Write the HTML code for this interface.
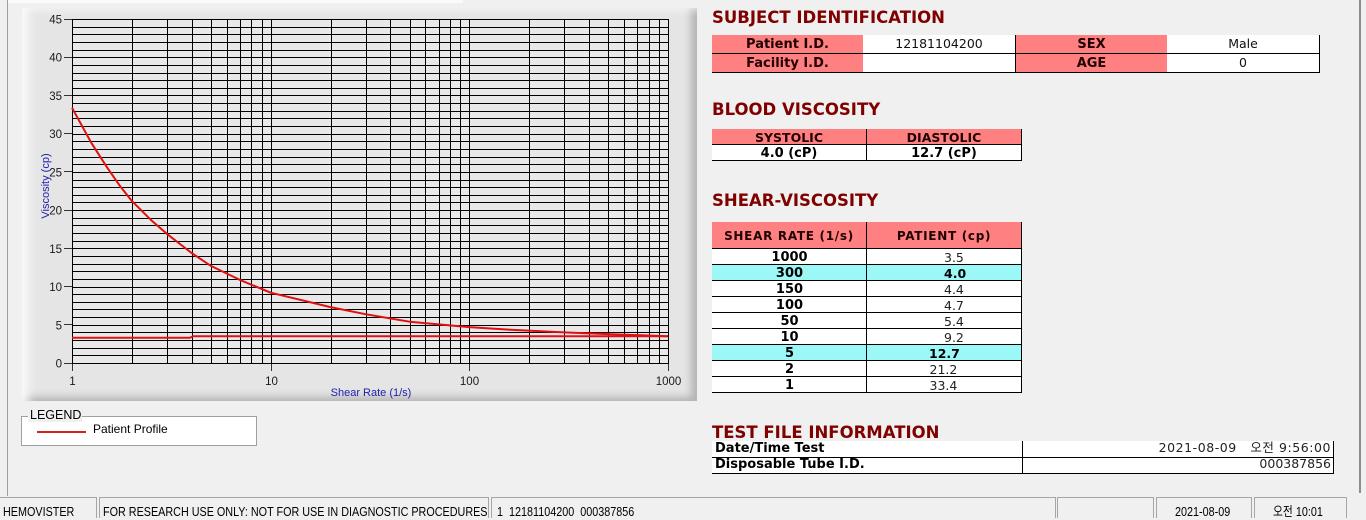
<!DOCTYPE html>
<html><head><meta charset="utf-8">
<style>
html,body{margin:0;padding:0;}
body{width:1366px;height:518px;background:#f0f0f0;position:relative;overflow:hidden;font-family:"Liberation Sans","Noto Sans CJK KR",sans-serif;}
.a{position:absolute;box-sizing:border-box;}
.t{position:absolute;white-space:nowrap;font-family:"DejaVu Sans","Noto Sans CJK KR",sans-serif;line-height:1.164;}
.b{font-weight:bold;}
.h{font-size:16.5px;font-weight:bold;color:#800000;}
.pk{background:#ff8080;}
.wh{background:#fff;}
.cy{background:#9cf7f7;}
.k{background:#000;}
.st{position:absolute;top:497px;height:21px;border-top:1px solid #a6a6a6;border-left:1px solid #a6a6a6;border-right:1px solid #a6a6a6;box-sizing:border-box;}
.sx{position:absolute;top:505px;white-space:nowrap;font-family:"Liberation Sans","Noto Sans CJK KR",sans-serif;font-size:13px;line-height:1.117;color:#000;transform:scaleX(0.83);transform-origin:0 0;}
.c{text-align:center;}
</style></head><body>

<!-- frame lines -->
<div class="a" style="left:8px;top:0;width:455px;height:3px;background:#fafafa"></div>
<div class="a" style="left:7px;top:0;width:1px;height:496px;background:#a0a0a0"></div>
<div class="a" style="left:1359px;top:0;width:2px;height:493px;background:#8c8c8c"></div>

<!-- chart panel -->
<div class="a" style="left:22px;top:8px;width:675px;height:393px;background:#e5e5e5;box-shadow:inset 12px 6px 10px -6px #fbfbfb, inset -9px -7px 8px -3px #b4b4b4;"></div>

<svg class="a" style="left:0;top:0" width="700" height="410" xmlns="http://www.w3.org/2000/svg">
<rect x="72" y="19" width="596" height="344" fill="#e8e8e8"/>
<path shape-rendering="crispEdges" stroke="#000" stroke-width="1" fill="none" d="M72 355.5H668M72 348.5H668M72 340.5H668M72 332.5H668M72 325.5H668M72 317.5H668M72 309.5H668M72 302.5H668M72 294.5H668M72 287.5H668M72 279.5H668M72 271.5H668M72 264.5H668M72 256.5H668M72 248.5H668M72 241.5H668M72 233.5H668M72 225.5H668M72 218.5H668M72 210.5H668M72 202.5H668M72 195.5H668M72 187.5H668M72 180.5H668M72 172.5H668M72 164.5H668M72 157.5H668M72 149.5H668M72 141.5H668M72 134.5H668M72 126.5H668M72 118.5H668M72 111.5H668M72 103.5H668M72 95.5H668M72 88.5H668M72 80.5H668M72 73.5H668M72 65.5H668M72 57.5H668M72 50.5H668M72 42.5H668M72 34.5H668M72 27.5H668
M132.5 19V363M167.5 19V363M192.5 19V363M211.5 19V363M227.5 19V363M240.5 19V363M251.5 19V363M262.5 19V363M271.5 19V363M331.5 19V363M366.5 19V363M390.5 19V363M410.5 19V363M425.5 19V363M439.5 19V363M450.5 19V363M460.5 19V363M469.5 19V363M529.5 19V363M564.5 19V363M589.5 19V363M608.5 19V363M624.5 19V363M637.5 19V363M649.5 19V363M659.5 19V363"/>
<rect x="72.5" y="19.5" width="596" height="344" fill="none" stroke="#000" stroke-width="1" shape-rendering="crispEdges"/>
<!-- ticks -->
<path shape-rendering="crispEdges" stroke="#333" stroke-width="1" d="M64 19.5H72M64 57.5H72M64 95.5H72M64 133.5H72M64 171.5H72M64 210.5H72M64 248.5H72M64 286.5H72M64 324.5H72M64 363.5H72M72.5 364V371M271.5 364V371M469.5 364V371M668.5 364V371"/>
<g font-family="Liberation Sans, sans-serif" font-size="11.5" fill="#1a1a1a" text-anchor="end">
<text x="62" y="23.5">45</text>
<text x="62" y="61.7">40</text>
<text x="62" y="99.9">35</text>
<text x="62" y="138.2">30</text>
<text x="62" y="176.4">25</text>
<text x="62" y="214.6">20</text>
<text x="62" y="252.8">15</text>
<text x="62" y="291.1">10</text>
<text x="62" y="329.3">5</text>
<text x="62" y="367.5">0</text>
</g>
<g font-family="Liberation Sans, sans-serif" font-size="11.5" fill="#1a1a1a" text-anchor="middle">
<text x="72.5" y="385">1</text>
<text x="271.5" y="385">10</text>
<text x="469.5" y="385">100</text>
<text x="668.5" y="385">1000</text>
</g>
<text x="371" y="396" font-family="Liberation Sans, sans-serif" font-size="11" fill="#2020b0" text-anchor="middle">Shear Rate (1/s)</text>
<text transform="translate(49,186) rotate(-90)" font-family="Liberation Sans, sans-serif" font-size="11" fill="#2020b0" text-anchor="middle">Viscosity (cp)</text>
<!-- series -->
<polyline fill="none" stroke="#e01010" stroke-width="2" stroke-linejoin="round" points="72,337.8 190,337.8 193,336.2 668,336.2"/>
<polyline fill="none" stroke="#e01010" stroke-width="2" stroke-linejoin="round" points="72,107.7 91.3,142.8 107,167.3 120.3,186.4 131.8,200.9 151.1,220.1 166.8,233.8 191.6,253 210.9,265.9 239.9,279.9 270.7,292.7 330.5,307.1 365.5,314.2 409.6,321.7 469.3,327.1 504.3,329.4 564.1,332.4 608.2,334.1 668,336.2"/>
</svg>

<!-- legend -->
<div class="a" style="left:21px;top:416px;width:236px;height:30px;background:#fff;border:1px solid #a0a0a0"></div>
<div class="a" style="left:28px;top:408px;width:54px;height:14px;background:#f0f0f0"></div>
<div class="t" style="left:30px;top:409px;font-family:'Liberation Sans',sans-serif;font-size:12.5px;line-height:1.117;">LEGEND</div>
<div class="a" style="left:37px;top:431px;width:49px;height:2px;background:#d42020"></div>
<div class="t" style="left:93px;top:423px;font-family:'Liberation Sans',sans-serif;font-size:12px;line-height:1.117;">Patient Profile</div>

<!-- headings -->
<div class="t h" style="left:712px;top:8px;">SUBJECT IDENTIFICATION</div>
<div class="t h" style="left:712px;top:99.7px;">BLOOD VISCOSITY</div>
<div class="t h" style="left:712px;top:191.4px;">SHEAR-VISCOSITY</div>
<div class="t h" style="left:712px;top:423px;">TEST FILE INFORMATION</div>

<!-- table 1 -->
<div class="a pk" style="left:712px;top:35px;width:151px;height:38px"></div>
<div class="a wh" style="left:863px;top:35px;width:152px;height:38px"></div>
<div class="a pk" style="left:1016px;top:35px;width:151px;height:38px"></div>
<div class="a wh" style="left:1167px;top:35px;width:152px;height:38px"></div>
<div class="a k" style="left:712px;top:53px;width:608px;height:1px"></div>
<div class="a k" style="left:712px;top:72px;width:608px;height:1px"></div>
<div class="a k" style="left:1015px;top:35px;width:1px;height:38px"></div>
<div class="a k" style="left:1319px;top:35px;width:1px;height:38px"></div>
<div class="t b c" style="left:712px;width:151px;top:36.9px;font-size:13px;color:#200000">Patient I.D.</div>
<div class="t b c" style="left:712px;width:151px;top:55.9px;font-size:13px;color:#200000">Facility I.D.</div>
<div class="t c" style="left:863px;width:152px;top:37.4px;font-size:12.5px;color:#111">12181104200</div>
<div class="t b c" style="left:1016px;width:151px;top:36.9px;font-size:13px;color:#200000">SEX</div>
<div class="t b c" style="left:1016px;width:151px;top:55.9px;font-size:13px;color:#200000">AGE</div>
<div class="t c" style="left:1167px;width:152px;top:37.4px;font-size:12.5px;color:#111">Male</div>
<div class="t c" style="left:1167px;width:152px;top:56.4px;font-size:12.5px;color:#111">0</div>

<!-- table 2 -->
<div class="a pk" style="left:712px;top:129px;width:309px;height:15px"></div>
<div class="a k" style="left:712px;top:144px;width:310px;height:1px"></div>
<div class="a wh" style="left:712px;top:145px;width:309px;height:15px"></div>
<div class="a k" style="left:712px;top:160px;width:310px;height:1px"></div>
<div class="a k" style="left:866px;top:129px;width:1px;height:32px"></div>
<div class="a k" style="left:1021px;top:129px;width:1px;height:32px"></div>
<div class="t b c" style="left:712px;width:154px;top:131.4px;font-size:12.5px;color:#200000">SYSTOLIC</div>
<div class="t b c" style="left:867px;width:154px;top:131.4px;font-size:12.5px;color:#200000">DIASTOLIC</div>
<div class="t b c" style="left:712px;width:154px;top:146.4px;font-size:13px;color:#000">4.0 (cP)</div>
<div class="t b c" style="left:867px;width:154px;top:146.4px;font-size:13px;color:#000">12.7 (cP)</div>

<!-- table 3 -->
<div class="a pk" style="left:712px;top:222px;width:309px;height:26px"></div>
<div class="a k" style="left:712px;top:248px;width:310px;height:1px"></div>
<div class="a wh" style="left:712px;top:249px;width:309px;height:144px"></div>
<div class="a cy" style="left:712px;top:265px;width:309px;height:15px"></div>
<div class="a cy" style="left:712px;top:345px;width:309px;height:15px"></div>
<div class="a k" style="left:712px;top:264px;width:310px;height:1px"></div>
<div class="a k" style="left:712px;top:280px;width:310px;height:1px"></div>
<div class="a k" style="left:712px;top:296px;width:310px;height:1px"></div>
<div class="a k" style="left:712px;top:312px;width:310px;height:1px"></div>
<div class="a k" style="left:712px;top:328px;width:310px;height:1px"></div>
<div class="a k" style="left:712px;top:344px;width:310px;height:1px"></div>
<div class="a k" style="left:712px;top:360px;width:310px;height:1px"></div>
<div class="a k" style="left:712px;top:376px;width:310px;height:1px"></div>
<div class="a k" style="left:712px;top:392px;width:310px;height:1px"></div>
<div class="a k" style="left:866px;top:222px;width:1px;height:171px"></div>
<div class="a k" style="left:1021px;top:222px;width:1px;height:171px"></div>
<div class="t b c" style="left:712px;width:154px;top:229.9px;font-size:12px;letter-spacing:0.7px;color:#200000">SHEAR RATE (1/s)</div>
<div class="t b c" style="left:867px;width:154px;top:229.9px;font-size:12px;letter-spacing:0.7px;color:#200000">PATIENT (cp)</div>

<div class="t b c" style="left:712px;width:155px;top:250.2px;font-size:13px">1000</div>
<div class="t b c" style="left:712px;width:155px;top:266.2px;font-size:13px">300</div>
<div class="t b c" style="left:712px;width:155px;top:282.2px;font-size:13px">150</div>
<div class="t b c" style="left:712px;width:155px;top:298.2px;font-size:13px">100</div>
<div class="t b c" style="left:712px;width:155px;top:314.2px;font-size:13px">50</div>
<div class="t b c" style="left:712px;width:155px;top:330.2px;font-size:13px">10</div>
<div class="t b c" style="left:712px;width:155px;top:346.2px;font-size:13px">5</div>
<div class="t b c" style="left:712px;width:155px;top:362.2px;font-size:13px">2</div>
<div class="t b c" style="left:712px;width:155px;top:378.2px;font-size:13px">1</div>

<div class="t" style="left:944px;top:250.7px;font-size:12.5px;color:#222">3.5</div>
<div class="t b" style="left:944px;top:266.7px;font-size:12.5px">4.0</div>
<div class="t" style="left:944px;top:282.7px;font-size:12.5px;color:#222">4.4</div>
<div class="t" style="left:944px;top:298.7px;font-size:12.5px;color:#222">4.7</div>
<div class="t" style="left:944px;top:314.7px;font-size:12.5px;color:#222">5.4</div>
<div class="t" style="left:944px;top:330.7px;font-size:12.5px;color:#222">9.2</div>
<div class="t b" style="left:929px;top:346.7px;font-size:12.5px">12.7</div>
<div class="t" style="left:929.5px;top:362.7px;font-size:12.5px;color:#222">21.2</div>
<div class="t" style="left:929.5px;top:378.7px;font-size:12.5px;color:#222">33.4</div>

<!-- table 4 -->
<div class="a wh" style="left:712px;top:441px;width:622px;height:32px"></div>
<div class="a k" style="left:712px;top:457px;width:622px;height:1px"></div>
<div class="a k" style="left:712px;top:473px;width:622px;height:1px"></div>
<div class="a k" style="left:1022px;top:441px;width:1px;height:32px"></div>
<div class="a k" style="left:1333px;top:441px;width:1px;height:33px"></div>
<div class="t b" style="left:715px;top:440.9px;font-size:13px">Date/Time Test</div>
<div class="t b" style="left:715px;top:456.9px;font-size:13px">Disposable Tube I.D.</div>
<div class="t" style="right:35px;top:441.4px;font-size:12.5px;letter-spacing:0.55px;color:#222">2021-08-09&nbsp;&nbsp;&nbsp;오전 9:56:00</div>
<div class="t" style="right:35px;top:457.4px;font-size:12.5px;color:#222">000387856</div>

<!-- status bar -->
<div class="st" style="left:-1px;width:98px"></div>
<div class="st" style="left:99px;width:390px"></div>
<div class="st" style="left:491px;width:565px"></div>
<div class="st" style="left:1057px;width:97px"></div>
<div class="st" style="left:1156px;width:96px"></div>
<div class="st" style="left:1254px;width:93px"></div>
<div class="sx" style="left:3px">HEMOVISTER</div>
<div class="sx" style="left:103px">FOR RESEARCH USE ONLY: NOT FOR USE IN DIAGNOSTIC PROCEDURES</div>
<div class="sx" style="left:497px">1&nbsp;&nbsp;12181104200&nbsp;&nbsp;000387856</div>
<div class="sx" style="left:1175px">2021-08-09</div>
<div class="sx" style="left:1273px">오전 10:01</div>

</body></html>
